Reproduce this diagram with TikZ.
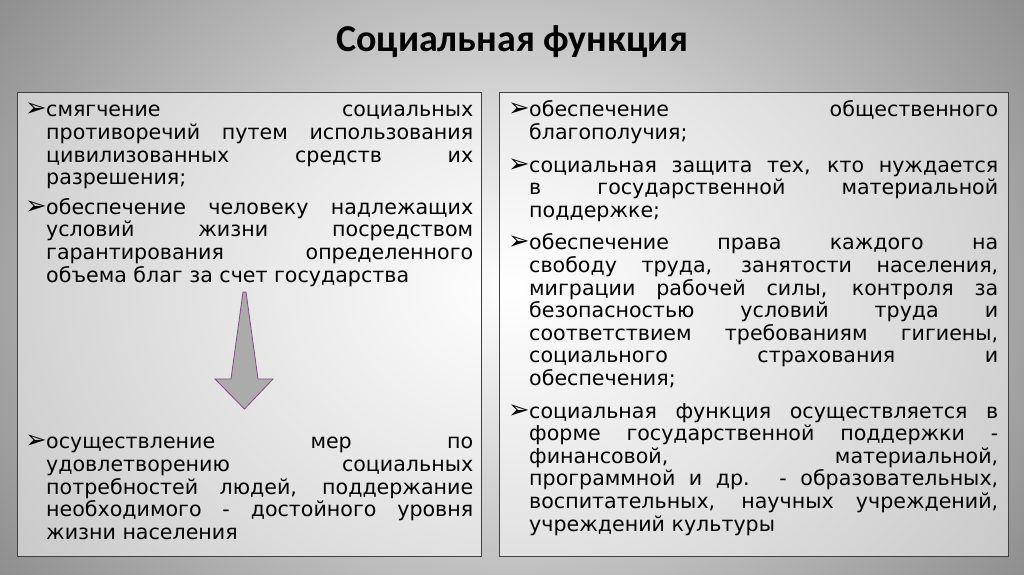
\documentclass[tikz,border=0pt]{standalone}
\usepackage{fontspec}
\setmainfont{DejaVu Sans}
\newfontfamily\titlefont{Carlito}
\usetikzlibrary{shadings}
\tikzset{
  panel/.style={draw=black!75, line width=0.8pt, fill=white, fill opacity=0.5},
  body/.style={anchor=north west, inner sep=0pt, align=justify, font=\fontsize{20.6}{22.6}\selectfont},
}
\newcommand{\bul}[1]{\par\noindent\hangindent=21pt\hangafter=1\makebox[21pt][l]{\scalebox{1.25}{\bfseries ➢}}#1\par}
\begin{document}
\begin{tikzpicture}[x=1pt,y=-1pt]
\useasboundingbox (0,0) rectangle (1024,574);
\shade[inner color=white, outer color=black!48] (-170,-260) rectangle (1194,834);
\clip (0,0) rectangle (1024,574);
\node[font=\titlefont\bfseries\fontsize{38}{42}\selectfont] (title) at (512,42) {Социальная функция};
\node[panel, minimum width=464pt, minimum height=464pt, anchor=north west] (lbox) at (17,92) {};
\node[panel, minimum width=509pt, minimum height=464pt, anchor=north west] (rbox) at (499,92) {};
\node[body, text width=448pt] (l1) at (25,94) {%
\bul{смягчение социальных\linebreak противоречий путем использования\linebreak цивилизованных средств их\linebreak разрешения;}\vspace{7pt}%
\bul{обеспечение человеку надлежащих\linebreak условий жизни посредством\linebreak гарантирования определенного\linebreak объема благ за счет государства}};
\node[body, text width=448pt] (l2) at (25,426) {%
\bul{осуществление мер по\linebreak удовлетворению социальных\linebreak потребностей людей, поддержание\linebreak необходимого - достойного уровня\linebreak жизни населения}};
\node[body, text width=490pt] (r1) at (508,94) {%
\bul{обеспечение общественного\linebreak благополучия;}\vspace{10pt}%
\bul{социальная защита тех, кто нуждается\linebreak в государственной материальной\linebreak поддержке;}\vspace{10pt}%
\bul{обеспечение права каждого на\linebreak свободу труда, занятости населения,\linebreak миграции рабочей силы, контроля за\linebreak безопасностью условий труда и\linebreak соответствием требованиям гигиены,\linebreak социального страхования и\linebreak обеспечения;}\vspace{10pt}%
\bul{социальная функция осуществляется в\linebreak форме государственной поддержки -\linebreak финансовой, материальной,\linebreak программной и др. - образовательных,\linebreak воспитательных, научных учреждений,\linebreak учреждений культуры}};
\draw[fill=black!33, draw=violet!60!black!70, line width=0.8pt]
  (243,292) -- (246,292) -- (258,379) -- (273,379) -- (244.5,409) -- (215,379) -- (231,379) -- cycle;
\end{tikzpicture}
\end{document}
